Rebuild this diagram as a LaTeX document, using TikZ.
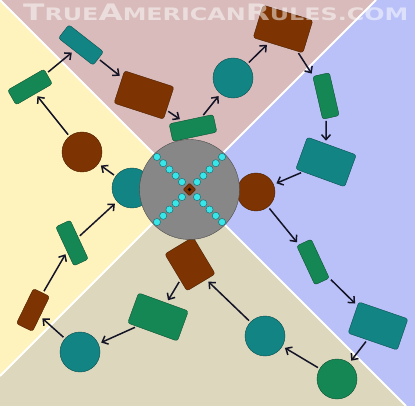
\documentclass[tikz,border=0pt]{standalone}
\usepackage{fontspec}
\usepackage{graphicx}
\usetikzlibrary{arrows.meta}

\newfontfamily\markfont{DejaVu Sans}

\definecolor{topcol}{HTML}{D9BBBB}
\definecolor{rightcol}{HTML}{B9C1F8}
\definecolor{bottomcol}{HTML}{DCD7BD}
\definecolor{leftcol}{HTML}{FEF2BD}
\definecolor{tealc}{HTML}{128484}
\definecolor{greenc}{HTML}{158754}
\definecolor{brownc}{HTML}{7E3402}
\definecolor{boardc}{HTML}{878787}
\definecolor{dotc}{HTML}{38E6EA}
\definecolor{arrowc}{HTML}{141426}

\begin{document}
\begin{tikzpicture}[x=1pt,y=-1pt]

%\tile{name}{colour}{pos}{width}{height}{angle}
\newcommand*{\tile}[6]{%
	\node [field=#2, minimum width=#4pt, minimum height=#5pt, rotate=#6] (#1) at (#3) {};
}

%\disc{name}{colour}{pos}{radius}
\newcommand*{\disc}[4]{%
	\node [circle, draw=#2!60!black, fill=#2, thin, inner sep=0pt, minimum size=2*#4pt] (#1) at (#3) {};
}

\tikzset{%
    field/.style={draw=#1!60!black, fill=#1, thin, rounded corners=2.5pt, inner sep=0pt},
    move/.style={-{Straight Barb[length=5pt,width=9pt]}, line width=1.5pt, arrowc, shorten <=2pt, shorten >=3pt},
}

\def\cx{188}
\def\cy{188}
\def\rboard{50}
\def\dd{6.25}

\useasboundingbox (0,0) rectangle (415,406);

% quadrants
\fill [topcol] (0,0) -- (376,0) -- (\cx,\cy) -- cycle;
\fill [rightcol] (376,0) -- (415,0) -- (415,406) -- (406,406) -- (\cx,\cy) -- cycle;
\fill [bottomcol] (406,406) -- (0,406) -- (0,376) -- (\cx,\cy) -- cycle;
\fill [leftcol] (0,376) -- (0,0) -- (\cx,\cy) -- cycle;
\draw [white, line width=2pt] (0,0) -- (406,406);
\draw [white, line width=2pt] (376,0) -- (0,376);

% track
\disc{s1}{tealc}{132,188}{20}
\disc{s2}{brownc}{82,152}{20}
\tile{s3}{greenc}{30,87}{42}{17}{30}
\tile{s4}{tealc}{81,45}{44}{17}{-38}
\tile{s5}{brownc}{144,95}{52}{34}{-18}
\tile{s6}{greenc}{193,128}{45}{18}{12}
\disc{s7}{tealc}{233,78}{20}
\tile{s8}{brownc}{283,29}{52}{34}{-17}
\tile{s9}{greenc}{326,96}{17}{44}{13}
\tile{s10}{tealc}{326,162}{52}{34}{-20}
\disc{s11}{brownc}{256,192}{19}
\tile{s12}{greenc}{313,262}{16}{43}{25}
\tile{s13}{tealc}{378,326}{52}{33}{-19}
\disc{s14}{greenc}{337,379}{20}
\disc{s15}{tealc}{265,336}{20}
\tile{s16}{brownc}{190,264}{33}{43}{31}
\tile{s17}{greenc}{158,317}{53}{32}{-20}
\disc{s18}{tealc}{80,352}{20}
\tile{s19}{brownc}{33,310}{18}{39}{-26}
\tile{s20}{greenc}{72,243}{16}{43}{25}

\foreach \a/\b in {s1/s2,s2/s3,s3/s4,s4/s5,s5/s6,s6/s7,s7/s8,s8/s9,s9/s10,s10/s11,
                   s11/s12,s12/s13,s13/s14,s14/s15,s15/s16,s16/s17,s17/s18,s18/s19,s19/s20,s20/s1}
	\draw [move] (\a) -- (\b);

% board and spokes
\node [circle, draw=boardc!55!black, fill=boardc, inner sep=0pt, minimum size=2*\rboard pt] (board) at (\cx+1.5,\cy+1.5) {};
\foreach \k in {1,...,5}
	\foreach \sx/\sy in {1/1,1/-1,-1/1,-1/-1}
		\filldraw [fill=dotc, draw=dotc!50!black, line width=0.5pt] (board.center) ++(\sx*1.3+\sx*\k*\dd,\sy*1.3+\sy*\k*\dd) circle (3.6);
\node [draw=brownc!50!black, fill=brownc, rounded corners=1pt, minimum size=9pt, inner sep=0pt, rotate=45] (hub) at (board.center) {};
\fill [black!85!brownc] (hub.center) circle (1.8);

% watermark
\node [anchor=south west, inner sep=0pt, text=white, text opacity=0.5] (mark) at (23,21)
	{\resizebox{385pt}{16.5pt}{\markfont\bfseries T\fontsize{7.6}{8}\selectfont RUE\fontsize{10}{10}\selectfont A\fontsize{7.6}{8}\selectfont MERICAN\fontsize{10}{10}\selectfont R\fontsize{7.6}{8}\selectfont ULES.COM}};

\end{tikzpicture}
\end{document}
